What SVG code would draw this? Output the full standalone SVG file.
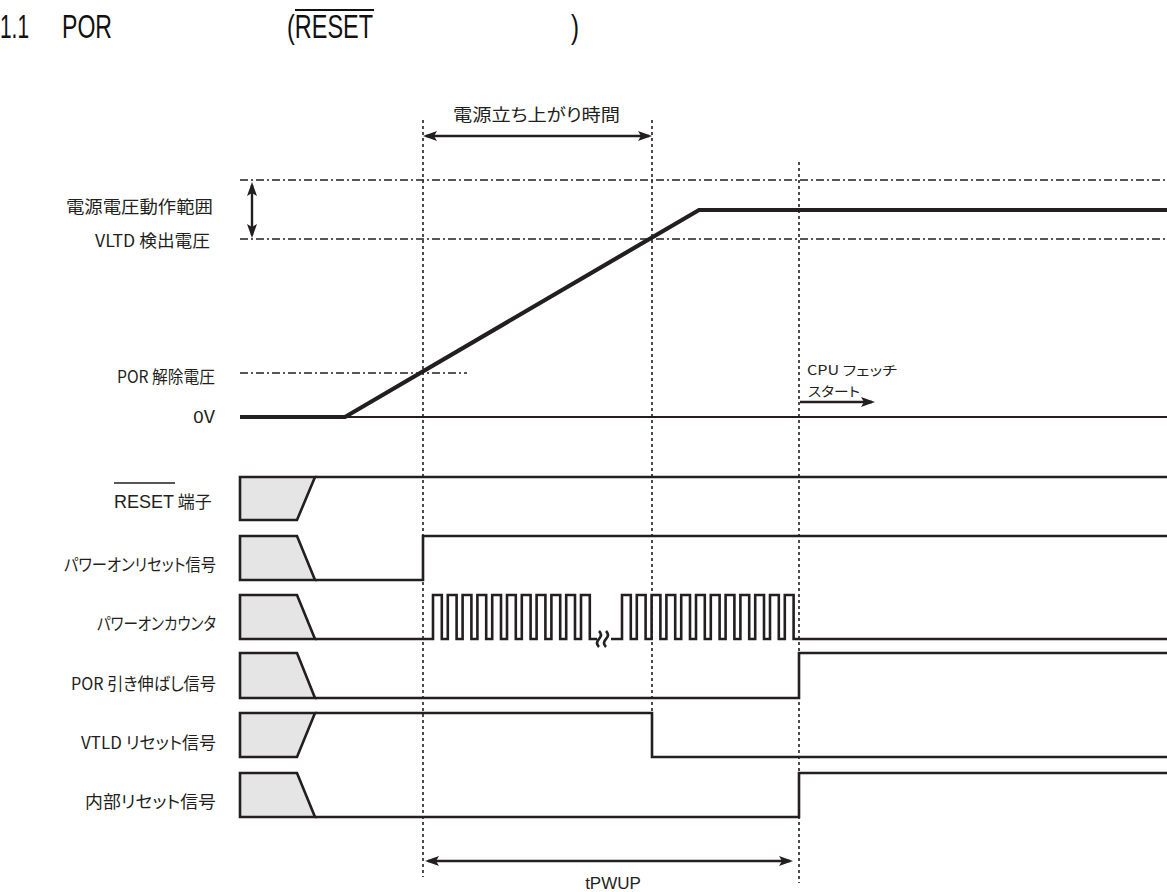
<svg xmlns="http://www.w3.org/2000/svg" width="1167" height="892" viewBox="0 0 1167 892">
<style>
.t{font-family:"Noto Sans CJK JP","Liberation Sans",sans-serif;font-size:17px;fill:#231f20;font-feature-settings:"palt" 1}
.s{font-family:"Noto Sans CJK JP","Liberation Sans",sans-serif;font-size:13px;fill:#231f20;font-feature-settings:"palt" 1}
.ti{font-family:"Liberation Sans",Arial,sans-serif;font-size:33px;fill:#111}
.lat{font-family:"Liberation Sans",Arial,sans-serif}
.dot{stroke:#231f20;stroke-width:1.6;stroke-dasharray:3 3;fill:none}
.dd{stroke:#231f20;stroke-width:1.6;stroke-dasharray:8 3 2 3;fill:none}
.sig{stroke:#231f20;stroke-width:2.6;fill:none;stroke-linejoin:miter}
.box{stroke:#231f20;stroke-width:2.6;fill:#e5e5e5;stroke-linejoin:miter}
.arr{stroke:#231f20;stroke-width:2.4;fill:none}
</style>
<defs>
<marker id="ah" markerUnits="userSpaceOnUse" markerWidth="14" markerHeight="10" viewBox="0 0 14 10" refX="11" refY="5" orient="auto-start-reverse">
<path d="M0,0 L14,5 L0,10 L3,5 z" fill="#231f20"/>
</marker>
</defs>

<g id="title">
<text class="ti" x="0" y="38" textLength="29" lengthAdjust="spacingAndGlyphs">1.1</text>
<text class="ti" x="62" y="38" textLength="50" lengthAdjust="spacingAndGlyphs">POR</text>
<text class="ti" x="287" y="38" textLength="86" lengthAdjust="spacingAndGlyphs">(RESET</text>
<line x1="295" y1="10" x2="374" y2="10" stroke="#111" stroke-width="2"/>
<text class="ti" x="571" y="38" textLength="8" lengthAdjust="spacingAndGlyphs">)</text>
</g>

<g id="guides">
<line class="dd" x1="240" y1="180" x2="1167" y2="180"/>
<line class="dd" x1="240" y1="239" x2="1167" y2="239"/>
<line class="dd" x1="240" y1="373" x2="467" y2="373"/>
<line class="dot" x1="423" y1="120" x2="423" y2="877"/>
<line class="dot" x1="652" y1="120" x2="652" y2="713"/>
<line class="dot" x1="799" y1="162" x2="799" y2="883"/>
</g>

<g id="labels">
<text class="t" x="213" y="213" text-anchor="end" textLength="147" lengthAdjust="spacingAndGlyphs">電源電圧動作範囲</text>
<text class="t" x="210" y="247" text-anchor="end" textLength="115" lengthAdjust="spacingAndGlyphs">VLTD 検出電圧</text>
<text class="t" x="215" y="383" text-anchor="end" textLength="98" lengthAdjust="spacingAndGlyphs">POR 解除電圧</text>
<text class="t" x="215" y="423" text-anchor="end" textLength="22" lengthAdjust="spacingAndGlyphs">0V</text>
<text class="t" x="114" y="508"><tspan class="lat" font-size="18">RESET</tspan> 端子</text>
<line x1="114" y1="483" x2="175" y2="483" stroke="#231f20" stroke-width="1.6"/>
<text class="t" x="216" y="571" text-anchor="end" textLength="152" lengthAdjust="spacingAndGlyphs">パワーオンリセット信号</text>
<text class="t" x="216" y="630" text-anchor="end" textLength="119" lengthAdjust="spacingAndGlyphs">パワーオンカウンタ</text>
<text class="t" x="216" y="690" text-anchor="end" textLength="145" lengthAdjust="spacingAndGlyphs">POR 引き伸ばし信号</text>
<text class="t" x="216" y="749" text-anchor="end" textLength="135" lengthAdjust="spacingAndGlyphs">VTLD リセット信号</text>
<text class="t" x="216" y="808" text-anchor="end" textLength="131" lengthAdjust="spacingAndGlyphs">内部リセット信号</text>
</g>

<g id="power">
<path d="M240,417 H345 L699,210 H1167" stroke="#231f20" stroke-width="4.2" fill="none" stroke-linejoin="miter"/>
<line x1="345" y1="417" x2="1167" y2="417" stroke="#231f20" stroke-width="2"/>
</g>

<g id="sig-reset">
<polygon class="box" points="240,477 315,477 297,520 240,520"/>
<path class="sig" d="M315,477 H1167"/>
</g>
<g id="sig-por">
<polygon class="box" points="240,536 297,536 315,580 240,580"/>
<path class="sig" d="M315,580 H423 V536 H1167"/>
</g>
<g id="sig-counter">
<polygon class="box" points="240,595 297,595 315,639 240,639"/>
<path class="sig" d="M315,639 H433 V595 H441.8 V639 H447.8 V595 H456.6 V639 H462.6 V595 H471.4 V639 H477.4 V595 H486.2 V639 H492.2 V595 H501 V639 H507 V595 H515.8 V639 H521.8 V595 H530.6 V639 H536.6 V595 H545.4 V639 H551.4 V595 H560.2 V639 H566.2 V595 H575 V639 H581 V595 H589.8 V639 H597"/>
<path class="sig" stroke-width="2" d="M599,631 q4,4 0,8 q-4,4 0,8 M606,631 q4,4 0,8 q-4,4 0,8"/>
<path class="sig" d="M611,639 H622 V595 H630.8 V639 H636.8 V595 H645.6 V639 H651.6 V595 H660.4 V639 H666.4 V595 H675.2 V639 H681.2 V595 H690 V639 H696 V595 H704.8 V639 H710.8 V595 H719.6 V639 H725.6 V595 H734.4 V639 H740.4 V595 H749.2 V639 H755.2 V595 H764 V639 H770 V595 H778.8 V639 H784.8 V595 H793.6 V639 H1167"/>
</g>
<g id="sig-stretch">
<polygon class="box" points="240,653 297,653 315,698 240,698"/>
<path class="sig" d="M315,698 H799 V653 H1167"/>
</g>
<g id="sig-vtld">
<polygon class="box" points="240,713 315,713 297,757 240,757"/>
<path class="sig" d="M315,713 H652 V757 H1167"/>
</g>
<g id="sig-internal">
<polygon class="box" points="240,773 297,773 315,817 240,817"/>
<path class="sig" d="M315,817 H799 V773 H1167"/>
</g>

<g id="connectors">
<line class="arr" x1="426" y1="136" x2="649" y2="136" marker-start="url(#ah)" marker-end="url(#ah)"/>
<line class="arr" x1="252" y1="185" x2="252" y2="235" marker-start="url(#ah)" marker-end="url(#ah)"/>
<line class="arr" x1="800" y1="402" x2="872" y2="402" marker-end="url(#ah)"/>
<line class="arr" x1="428" y1="861" x2="790" y2="861" marker-start="url(#ah)" marker-end="url(#ah)"/>
</g>

<g id="annotations">
<text class="t" x="453" y="121" textLength="167" lengthAdjust="spacingAndGlyphs">電源立ち上がり時間</text>
<text class="s" x="807" y="375" textLength="90" lengthAdjust="spacingAndGlyphs">CPU フェッチ</text>
<text class="s" x="808" y="396" textLength="52" lengthAdjust="spacingAndGlyphs">スタート</text>
<text class="lat" x="613" y="889" font-size="17" fill="#231f20" text-anchor="middle">tPWUP</text>
</g>
</svg>
